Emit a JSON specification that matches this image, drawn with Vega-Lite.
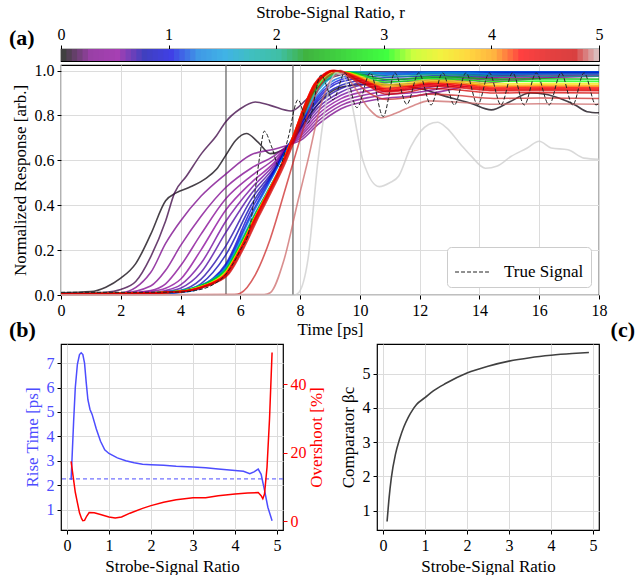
{
"$schema":"https://vega.github.io/schema/vega-lite/v6.json",
"padding":{"left":8,"top":2,"right":0,"bottom":0},
"background":"white",
"config":{
"font":"Liberation Serif",
"view":{"stroke":"#000","strokeWidth":1.2},
"axis":{"labelFont":"Liberation Serif","titleFont":"Liberation Serif","labelFontSize":16,"titleFontSize":17,"titleFontWeight":"normal","labelColor":"#000","titleColor":"#000","tickColor":"#000","tickSize":4,"tickWidth":1,"domain":false,"gridColor":"#dcdcdc","gridWidth":1,"labelPadding":3,"titlePadding":5,"labelFlush":false,"labelOverlap":false},
"axisQuantitative":{"labelOverlap":false},
"title":{"font":"Liberation Serif","fontSize":22,"fontWeight":"bold","color":"#000"}
},
"datasets":{
"cbar":[{"a":0,"b":0.06},{"a":0.05,"b":0.11},{"a":0.1,"b":0.16},{"a":0.15,"b":0.21},{"a":0.2,"b":0.26},{"a":0.25,"b":0.31},{"a":0.3,"b":0.36},{"a":0.35,"b":0.41},{"a":0.4,"b":0.46},{"a":0.45,"b":0.51},{"a":0.5,"b":0.56},{"a":0.55,"b":0.61},{"a":0.6,"b":0.66},{"a":0.65,"b":0.71},{"a":0.7,"b":0.76},{"a":0.75,"b":0.81},{"a":0.8,"b":0.86},{"a":0.85,"b":0.91},{"a":0.9,"b":0.96},{"a":0.95,"b":1.01},{"a":1,"b":1.06},{"a":1.05,"b":1.11},{"a":1.1,"b":1.16},{"a":1.15,"b":1.21},{"a":1.2,"b":1.26},{"a":1.25,"b":1.31},{"a":1.3,"b":1.36},{"a":1.35,"b":1.41},{"a":1.4,"b":1.46},{"a":1.45,"b":1.51},{"a":1.5,"b":1.56},{"a":1.55,"b":1.61},{"a":1.6,"b":1.66},{"a":1.65,"b":1.71},{"a":1.7,"b":1.76},{"a":1.75,"b":1.81},{"a":1.8,"b":1.86},{"a":1.85,"b":1.91},{"a":1.9,"b":1.96},{"a":1.95,"b":2.01},{"a":2,"b":2.06},{"a":2.05,"b":2.11},{"a":2.1,"b":2.16},{"a":2.15,"b":2.21},{"a":2.2,"b":2.26},{"a":2.25,"b":2.31},{"a":2.3,"b":2.36},{"a":2.35,"b":2.41},{"a":2.4,"b":2.46},{"a":2.45,"b":2.51},{"a":2.5,"b":2.56},{"a":2.55,"b":2.61},{"a":2.6,"b":2.66},{"a":2.65,"b":2.71},{"a":2.7,"b":2.76},{"a":2.75,"b":2.81},{"a":2.8,"b":2.86},{"a":2.85,"b":2.91},{"a":2.9,"b":2.96},{"a":2.95,"b":3.01},{"a":3,"b":3.06},{"a":3.05,"b":3.11},{"a":3.1,"b":3.16},{"a":3.15,"b":3.21},{"a":3.2,"b":3.26},{"a":3.25,"b":3.31},{"a":3.3,"b":3.36},{"a":3.35,"b":3.41},{"a":3.4,"b":3.46},{"a":3.45,"b":3.51},{"a":3.5,"b":3.56},{"a":3.55,"b":3.61},{"a":3.6,"b":3.66},{"a":3.65,"b":3.71},{"a":3.7,"b":3.76},{"a":3.75,"b":3.81},{"a":3.8,"b":3.86},{"a":3.85,"b":3.91},{"a":3.9,"b":3.96},{"a":3.95,"b":4.01},{"a":4,"b":4.06},{"a":4.05,"b":4.11},{"a":4.1,"b":4.16},{"a":4.15,"b":4.21},{"a":4.2,"b":4.26},{"a":4.25,"b":4.31},{"a":4.3,"b":4.36},{"a":4.35,"b":4.41},{"a":4.4,"b":4.46},{"a":4.45,"b":4.51},{"a":4.5,"b":4.56},{"a":4.55,"b":4.61},{"a":4.6,"b":4.66},{"a":4.65,"b":4.71},{"a":4.7,"b":4.76},{"a":4.75,"b":4.81},{"a":4.8,"b":4.86},{"a":4.85,"b":4.91},{"a":4.9,"b":4.96},{"a":4.95,"b":5}],
"vlines":[{"t":5.52},{"t":7.76}],
"curves":[
{"r":0.02,"t":0,"y":0.01},{"r":0.02,"t":1,"y":0.015},{"r":0.02,"t":1.5,"y":0.035},{"r":0.02,"t":2,"y":0.075},{"r":0.02,"t":2.5,"y":0.14},{"r":0.02,"t":3,"y":0.27},{"r":0.02,"t":3.5,"y":0.42},{"r":0.02,"t":3.85,"y":0.455},{"r":0.02,"t":4.3,"y":0.48},{"r":0.02,"t":4.85,"y":0.52},{"r":0.02,"t":5.2,"y":0.56},{"r":0.02,"t":5.5,"y":0.62},{"r":0.02,"t":5.85,"y":0.69},{"r":0.02,"t":6.2,"y":0.72},{"r":0.02,"t":6.6,"y":0.68},{"r":0.02,"t":7,"y":0.63},{"r":0.02,"t":7.4,"y":0.645},{"r":0.02,"t":7.7,"y":0.68},{"r":0.02,"t":8.2,"y":0.78},{"r":0.02,"t":8.8,"y":0.88},{"r":0.02,"t":9.5,"y":0.93},{"r":0.02,"t":10.5,"y":0.94},{"r":0.02,"t":12,"y":0.92},{"r":0.02,"t":13,"y":0.88},{"r":0.02,"t":13.7,"y":0.855},{"r":0.02,"t":14.4,"y":0.825},{"r":0.02,"t":15,"y":0.86},{"r":0.02,"t":15.7,"y":0.9},{"r":0.02,"t":16.2,"y":0.895},{"r":0.02,"t":16.7,"y":0.876},{"r":0.02,"t":17.2,"y":0.847},{"r":0.02,"t":17.6,"y":0.817},{"r":0.02,"t":18,"y":0.812},
{"r":0.12,"t":0,"y":0.005},{"r":0.12,"t":1.5,"y":0.012},{"r":0.12,"t":2,"y":0.025},{"r":0.12,"t":2.5,"y":0.06},{"r":0.12,"t":3,"y":0.17},{"r":0.12,"t":3.5,"y":0.33},{"r":0.12,"t":3.8,"y":0.455},{"r":0.12,"t":4.2,"y":0.53},{"r":0.12,"t":4.7,"y":0.63},{"r":0.12,"t":5.2,"y":0.71},{"r":0.12,"t":5.5,"y":0.77},{"r":0.12,"t":6,"y":0.83},{"r":0.12,"t":6.5,"y":0.86},{"r":0.12,"t":7,"y":0.845},{"r":0.12,"t":7.7,"y":0.82},{"r":0.12,"t":8.2,"y":0.87},{"r":0.12,"t":8.8,"y":0.95},{"r":0.12,"t":9.5,"y":0.985},{"r":0.12,"t":10.5,"y":0.995},{"r":0.12,"t":12,"y":0.995},{"r":0.12,"t":14,"y":0.995},{"r":0.12,"t":16,"y":0.99},{"r":0.12,"t":18,"y":0.99},
{"r":0.25,"t":0,"y":0.005},{"r":0.25,"t":2,"y":0.01},{"r":0.25,"t":3,"y":0.1},{"r":0.25,"t":3.5,"y":0.23},{"r":0.25,"t":4,"y":0.33},{"r":0.25,"t":4.68,"y":0.44},{"r":0.25,"t":5.52,"y":0.54},{"r":0.25,"t":6.36,"y":0.625},{"r":0.25,"t":7.13,"y":0.65},{"r":0.25,"t":7.63,"y":0.67},{"r":0.25,"t":8.03,"y":0.69},{"r":0.25,"t":8.6,"y":0.76},{"r":0.25,"t":9.37,"y":0.83},{"r":0.25,"t":10.5,"y":0.87},{"r":0.25,"t":12,"y":0.89},{"r":0.25,"t":14,"y":0.94},{"r":0.25,"t":16,"y":0.965},{"r":0.25,"t":18,"y":0.975},
{"r":0.33,"t":0,"y":0.005},{"r":0.33,"t":2,"y":0.008},{"r":0.33,"t":3,"y":0.04},{"r":0.33,"t":3.5,"y":0.11},{"r":0.33,"t":4,"y":0.22},{"r":0.33,"t":4.68,"y":0.35},{"r":0.33,"t":5.52,"y":0.48},{"r":0.33,"t":6.36,"y":0.565},{"r":0.33,"t":7.13,"y":0.62},{"r":0.33,"t":7.63,"y":0.67},{"r":0.33,"t":8.03,"y":0.7},{"r":0.33,"t":8.6,"y":0.775},{"r":0.33,"t":9.37,"y":0.845},{"r":0.33,"t":10.5,"y":0.885},{"r":0.33,"t":12,"y":0.905},{"r":0.33,"t":14,"y":0.95},{"r":0.33,"t":16,"y":0.97},{"r":0.33,"t":18,"y":0.98},
{"r":0.4,"t":0,"y":0.005},{"r":0.4,"t":2,"y":0.007},{"r":0.4,"t":3,"y":0.02},{"r":0.4,"t":3.5,"y":0.05},{"r":0.4,"t":4,"y":0.13},{"r":0.4,"t":4.68,"y":0.27},{"r":0.4,"t":5.52,"y":0.43},{"r":0.4,"t":6.36,"y":0.53},{"r":0.4,"t":7.13,"y":0.605},{"r":0.4,"t":7.63,"y":0.67},{"r":0.4,"t":8.03,"y":0.71},{"r":0.4,"t":8.6,"y":0.79},{"r":0.4,"t":9.37,"y":0.86},{"r":0.4,"t":10.5,"y":0.9},{"r":0.4,"t":12,"y":0.92},{"r":0.4,"t":14,"y":0.96},{"r":0.4,"t":16,"y":0.975},{"r":0.4,"t":18,"y":0.985},
{"r":0.48,"t":0,"y":0.005},{"r":0.48,"t":2,"y":0.006},{"r":0.48,"t":3,"y":0.015},{"r":0.48,"t":3.5,"y":0.03},{"r":0.48,"t":4,"y":0.07},{"r":0.48,"t":4.68,"y":0.2},{"r":0.48,"t":5.52,"y":0.38},{"r":0.48,"t":6.36,"y":0.5},{"r":0.48,"t":7.13,"y":0.59},{"r":0.48,"t":7.63,"y":0.67},{"r":0.48,"t":8.03,"y":0.72},{"r":0.48,"t":8.6,"y":0.805},{"r":0.48,"t":9.37,"y":0.875},{"r":0.48,"t":10.5,"y":0.915},{"r":0.48,"t":12,"y":0.935},{"r":0.48,"t":14,"y":0.965},{"r":0.48,"t":16,"y":0.98},{"r":0.48,"t":18,"y":0.985},
{"r":0.55,"t":0,"y":0.005},{"r":0.55,"t":2,"y":0.006},{"r":0.55,"t":3,"y":0.01},{"r":0.55,"t":3.5,"y":0.02},{"r":0.55,"t":4,"y":0.045},{"r":0.55,"t":4.68,"y":0.14},{"r":0.55,"t":5.52,"y":0.33},{"r":0.55,"t":6.36,"y":0.475},{"r":0.55,"t":7.13,"y":0.58},{"r":0.55,"t":7.63,"y":0.67},{"r":0.55,"t":8.03,"y":0.73},{"r":0.55,"t":8.6,"y":0.82},{"r":0.55,"t":9.37,"y":0.89},{"r":0.55,"t":10.5,"y":0.93},{"r":0.55,"t":12,"y":0.945},{"r":0.55,"t":14,"y":0.97},{"r":0.55,"t":16,"y":0.985},{"r":0.55,"t":18,"y":0.99},
{"r":0.62,"t":0,"y":0.005},{"r":0.62,"t":2,"y":0.006},{"r":0.62,"t":3,"y":0.008},{"r":0.62,"t":3.5,"y":0.015},{"r":0.62,"t":4,"y":0.03},{"r":0.62,"t":4.68,"y":0.1},{"r":0.62,"t":5.52,"y":0.28},{"r":0.62,"t":6.36,"y":0.45},{"r":0.62,"t":7.13,"y":0.57},{"r":0.62,"t":7.63,"y":0.67},{"r":0.62,"t":8.03,"y":0.74},{"r":0.62,"t":8.6,"y":0.835},{"r":0.62,"t":9.37,"y":0.905},{"r":0.62,"t":10.5,"y":0.945},{"r":0.62,"t":12,"y":0.955},{"r":0.62,"t":14,"y":0.975},{"r":0.62,"t":16,"y":0.985},{"r":0.62,"t":18,"y":0.99},
{"r":0.7,"t":0,"y":0.005},{"r":0.7,"t":2,"y":0.006},{"r":0.7,"t":3,"y":0.007},{"r":0.7,"t":3.5,"y":0.012},{"r":0.7,"t":4,"y":0.02},{"r":0.7,"t":4.68,"y":0.07},{"r":0.7,"t":5.52,"y":0.22},{"r":0.7,"t":6.36,"y":0.425},{"r":0.7,"t":7.13,"y":0.56},{"r":0.7,"t":7.63,"y":0.67},{"r":0.7,"t":8.03,"y":0.75},{"r":0.7,"t":8.6,"y":0.85},{"r":0.7,"t":9.37,"y":0.92},{"r":0.7,"t":10.5,"y":0.955},{"r":0.7,"t":12,"y":0.965},{"r":0.7,"t":14,"y":0.98},{"r":0.7,"t":16,"y":0.99},{"r":0.7,"t":18,"y":0.99},
{"r":0.8,"t":0,"y":0.005},{"r":0.8,"t":2,"y":0.006},{"r":0.8,"t":3,"y":0.007},{"r":0.8,"t":3.5,"y":0.01},{"r":0.8,"t":4,"y":0.016},{"r":0.8,"t":4.68,"y":0.05},{"r":0.8,"t":5.52,"y":0.18},{"r":0.8,"t":6.36,"y":0.4},{"r":0.8,"t":7.13,"y":0.555},{"r":0.8,"t":7.63,"y":0.67},{"r":0.8,"t":8.03,"y":0.76},{"r":0.8,"t":8.6,"y":0.865},{"r":0.8,"t":9.37,"y":0.935},{"r":0.8,"t":10.5,"y":0.965},{"r":0.8,"t":12,"y":0.975},{"r":0.8,"t":14,"y":0.985},{"r":0.8,"t":16,"y":0.99},{"r":0.8,"t":18,"y":0.995},
{"r":0.9,"t":0,"y":0.005},{"r":0.9,"t":2,"y":0.006},{"r":0.9,"t":3,"y":0.006},{"r":0.9,"t":3.5,"y":0.009},{"r":0.9,"t":4,"y":0.014},{"r":0.9,"t":4.68,"y":0.04},{"r":0.9,"t":5.52,"y":0.14},{"r":0.9,"t":6.36,"y":0.38},{"r":0.9,"t":7.13,"y":0.55},{"r":0.9,"t":7.63,"y":0.67},{"r":0.9,"t":8.03,"y":0.765},{"r":0.9,"t":8.6,"y":0.875},{"r":0.9,"t":9.37,"y":0.95},{"r":0.9,"t":10.5,"y":0.975},{"r":0.9,"t":12,"y":0.985},{"r":0.9,"t":14,"y":0.99},{"r":0.9,"t":16,"y":0.995},{"r":0.9,"t":18,"y":0.995},
{"r":1.0,"t":0,"y":0.005},{"r":1.0,"t":2,"y":0.006},{"r":1.0,"t":3,"y":0.006},{"r":1.0,"t":3.5,"y":0.008},{"r":1.0,"t":4,"y":0.012},{"r":1.0,"t":4.68,"y":0.035},{"r":1.0,"t":5.52,"y":0.132},{"r":1.0,"t":6.36,"y":0.36},{"r":1.0,"t":7.13,"y":0.545},{"r":1.0,"t":7.63,"y":0.67},{"r":1.0,"t":8.03,"y":0.77},{"r":1.0,"t":8.6,"y":0.885},{"r":1.0,"t":9.37,"y":0.96},{"r":1.0,"t":10.5,"y":0.985},{"r":1.0,"t":12,"y":0.99},{"r":1.0,"t":14,"y":0.995},{"r":1.0,"t":16,"y":0.995},{"r":1.0,"t":18,"y":0.995},
{"r":1.2,"t":0,"y":0.005},{"r":1.2,"t":2,"y":0.006},{"r":1.2,"t":3,"y":0.006},{"r":1.2,"t":3.5,"y":0.008},{"r":1.2,"t":4,"y":0.011},{"r":1.2,"t":4.68,"y":0.03},{"r":1.2,"t":5.52,"y":0.127},{"r":1.2,"t":6.36,"y":0.35},{"r":1.2,"t":7.13,"y":0.54},{"r":1.2,"t":7.63,"y":0.67},{"r":1.2,"t":8.03,"y":0.775},{"r":1.2,"t":8.6,"y":0.895},{"r":1.2,"t":9.37,"y":0.97},{"r":1.2,"t":10.5,"y":0.99},{"r":1.2,"t":12,"y":0.995},{"r":1.2,"t":14,"y":0.995},{"r":1.2,"t":16,"y":0.995},{"r":1.2,"t":18,"y":0.995},
{"r":1.5,"t":0,"y":0.005},{"r":1.5,"t":2,"y":0.006},{"r":1.5,"t":4,"y":0.02},{"r":1.5,"t":4.68,"y":0.045},{"r":1.5,"t":5,"y":0.065},{"r":1.5,"t":5.52,"y":0.122},{"r":1.5,"t":6.02,"y":0.24},{"r":1.5,"t":6.52,"y":0.37},{"r":1.5,"t":6.92,"y":0.465},{"r":1.5,"t":7.36,"y":0.575},{"r":1.5,"t":7.8,"y":0.71},{"r":1.5,"t":8.13,"y":0.8},{"r":1.5,"t":8.47,"y":0.885},{"r":1.5,"t":8.8,"y":0.94},{"r":1.5,"t":9.05,"y":0.97},{"r":1.5,"t":9.3,"y":0.99},{"r":1.5,"t":9.6,"y":0.995},{"r":1.5,"t":10.2,"y":0.995},{"r":1.5,"t":10.9,"y":0.985},{"r":1.5,"t":11.6,"y":0.985},{"r":1.5,"t":12.3,"y":0.99},{"r":1.5,"t":13.2,"y":0.99},{"r":1.5,"t":14.5,"y":0.985},{"r":1.5,"t":16,"y":0.985},{"r":1.5,"t":18,"y":0.985},
{"r":2.0,"t":0,"y":0.005},{"r":2.0,"t":2,"y":0.006},{"r":2.0,"t":4,"y":0.019},{"r":2.0,"t":4.68,"y":0.043},{"r":2.0,"t":5,"y":0.062},{"r":2.0,"t":5.52,"y":0.118},{"r":2.0,"t":6.02,"y":0.235},{"r":2.0,"t":6.52,"y":0.366},{"r":2.0,"t":6.92,"y":0.463},{"r":2.0,"t":7.36,"y":0.575},{"r":2.0,"t":7.8,"y":0.712},{"r":2.0,"t":8.13,"y":0.807},{"r":2.0,"t":8.47,"y":0.895},{"r":2.0,"t":8.8,"y":0.948},{"r":2.0,"t":9.05,"y":0.975},{"r":2.0,"t":9.3,"y":0.991},{"r":2.0,"t":9.6,"y":0.995},{"r":2.0,"t":10.2,"y":0.989},{"r":2.0,"t":10.9,"y":0.974},{"r":2.0,"t":11.6,"y":0.976},{"r":2.0,"t":12.3,"y":0.983},{"r":2.0,"t":13.2,"y":0.982},{"r":2.0,"t":14.5,"y":0.975},{"r":2.0,"t":16,"y":0.975},{"r":2.0,"t":18,"y":0.975},
{"r":2.5,"t":0,"y":0.005},{"r":2.5,"t":2,"y":0.006},{"r":2.5,"t":4,"y":0.018},{"r":2.5,"t":4.68,"y":0.041},{"r":2.5,"t":5,"y":0.06},{"r":2.5,"t":5.52,"y":0.113},{"r":2.5,"t":6.02,"y":0.229},{"r":2.5,"t":6.52,"y":0.363},{"r":2.5,"t":6.92,"y":0.461},{"r":2.5,"t":7.36,"y":0.575},{"r":2.5,"t":7.8,"y":0.714},{"r":2.5,"t":8.13,"y":0.814},{"r":2.5,"t":8.47,"y":0.905},{"r":2.5,"t":8.8,"y":0.956},{"r":2.5,"t":9.05,"y":0.981},{"r":2.5,"t":9.3,"y":0.993},{"r":2.5,"t":9.6,"y":0.992},{"r":2.5,"t":10.2,"y":0.979},{"r":2.5,"t":10.9,"y":0.96},{"r":2.5,"t":11.6,"y":0.964},{"r":2.5,"t":12.3,"y":0.972},{"r":2.5,"t":13.2,"y":0.971},{"r":2.5,"t":14.5,"y":0.962},{"r":2.5,"t":16,"y":0.963},{"r":2.5,"t":18,"y":0.962},
{"r":3.0,"t":0,"y":0.005},{"r":3.0,"t":2,"y":0.006},{"r":3.0,"t":4,"y":0.017},{"r":3.0,"t":4.68,"y":0.04},{"r":3.0,"t":5,"y":0.057},{"r":3.0,"t":5.52,"y":0.109},{"r":3.0,"t":6.02,"y":0.224},{"r":3.0,"t":6.52,"y":0.359},{"r":3.0,"t":6.92,"y":0.46},{"r":3.0,"t":7.36,"y":0.575},{"r":3.0,"t":7.8,"y":0.715},{"r":3.0,"t":8.13,"y":0.822},{"r":3.0,"t":8.47,"y":0.915},{"r":3.0,"t":8.8,"y":0.964},{"r":3.0,"t":9.05,"y":0.986},{"r":3.0,"t":9.3,"y":0.994},{"r":3.0,"t":9.6,"y":0.992},{"r":3.0,"t":10.2,"y":0.973},{"r":3.0,"t":10.9,"y":0.949},{"r":3.0,"t":11.6,"y":0.955},{"r":3.0,"t":12.3,"y":0.965},{"r":3.0,"t":13.2,"y":0.962},{"r":3.0,"t":14.5,"y":0.952},{"r":3.0,"t":16,"y":0.953},{"r":3.0,"t":18,"y":0.952},
{"r":3.5,"t":0,"y":0.005},{"r":3.5,"t":2,"y":0.006},{"r":3.5,"t":4,"y":0.016},{"r":3.5,"t":4.68,"y":0.038},{"r":3.5,"t":5,"y":0.054},{"r":3.5,"t":5.52,"y":0.104},{"r":3.5,"t":6.02,"y":0.219},{"r":3.5,"t":6.52,"y":0.356},{"r":3.5,"t":6.92,"y":0.458},{"r":3.5,"t":7.36,"y":0.575},{"r":3.5,"t":7.8,"y":0.717},{"r":3.5,"t":8.13,"y":0.828},{"r":3.5,"t":8.47,"y":0.924},{"r":3.5,"t":8.8,"y":0.972},{"r":3.5,"t":9.05,"y":0.991},{"r":3.5,"t":9.3,"y":0.995},{"r":3.5,"t":9.6,"y":0.991},{"r":3.5,"t":10.2,"y":0.966},{"r":3.5,"t":10.9,"y":0.938},{"r":3.5,"t":11.6,"y":0.946},{"r":3.5,"t":12.3,"y":0.958},{"r":3.5,"t":13.2,"y":0.954},{"r":3.5,"t":14.5,"y":0.942},{"r":3.5,"t":16,"y":0.943},{"r":3.5,"t":18,"y":0.942},
{"r":3.8,"t":0,"y":0.005},{"r":3.8,"t":2,"y":0.006},{"r":3.8,"t":4,"y":0.016},{"r":3.8,"t":4.68,"y":0.037},{"r":3.8,"t":5,"y":0.053},{"r":3.8,"t":5.52,"y":0.1},{"r":3.8,"t":6.02,"y":0.215},{"r":3.8,"t":6.52,"y":0.354},{"r":3.8,"t":6.92,"y":0.457},{"r":3.8,"t":7.36,"y":0.575},{"r":3.8,"t":7.8,"y":0.718},{"r":3.8,"t":8.13,"y":0.833},{"r":3.8,"t":8.47,"y":0.93},{"r":3.8,"t":8.8,"y":0.977},{"r":3.8,"t":9.05,"y":0.995},{"r":3.8,"t":9.3,"y":0.996},{"r":3.8,"t":9.6,"y":0.99},{"r":3.8,"t":10.2,"y":0.961},{"r":3.8,"t":10.9,"y":0.931},{"r":3.8,"t":11.6,"y":0.939},{"r":3.8,"t":12.3,"y":0.952},{"r":3.8,"t":13.2,"y":0.948},{"r":3.8,"t":14.5,"y":0.935},{"r":3.8,"t":16,"y":0.937},{"r":3.8,"t":18,"y":0.935},
{"r":4.0,"t":0,"y":0.005},{"r":4.0,"t":2,"y":0.006},{"r":4.0,"t":4,"y":0.016},{"r":4.0,"t":4.68,"y":0.036},{"r":4.0,"t":5,"y":0.052},{"r":4.0,"t":5.52,"y":0.098},{"r":4.0,"t":6.02,"y":0.213},{"r":4.0,"t":6.52,"y":0.352},{"r":4.0,"t":6.92,"y":0.456},{"r":4.0,"t":7.36,"y":0.575},{"r":4.0,"t":7.8,"y":0.719},{"r":4.0,"t":8.13,"y":0.836},{"r":4.0,"t":8.47,"y":0.934},{"r":4.0,"t":8.8,"y":0.98},{"r":4.0,"t":9.05,"y":0.997},{"r":4.0,"t":9.3,"y":0.996},{"r":4.0,"t":9.6,"y":0.989},{"r":4.0,"t":10.2,"y":0.958},{"r":4.0,"t":10.9,"y":0.926},{"r":4.0,"t":11.6,"y":0.934},{"r":4.0,"t":12.3,"y":0.948},{"r":4.0,"t":13.2,"y":0.944},{"r":4.0,"t":14.5,"y":0.93},{"r":4.0,"t":16,"y":0.932},{"r":4.0,"t":18,"y":0.93},
{"r":4.2,"t":0,"y":0.005},{"r":4.2,"t":2,"y":0.006},{"r":4.2,"t":4,"y":0.015},{"r":4.2,"t":4.68,"y":0.035},{"r":4.2,"t":5,"y":0.051},{"r":4.2,"t":5.52,"y":0.096},{"r":4.2,"t":6.02,"y":0.211},{"r":4.2,"t":6.52,"y":0.351},{"r":4.2,"t":6.92,"y":0.455},{"r":4.2,"t":7.36,"y":0.575},{"r":4.2,"t":7.8,"y":0.72},{"r":4.2,"t":8.13,"y":0.838},{"r":4.2,"t":8.47,"y":0.938},{"r":4.2,"t":8.8,"y":0.983},{"r":4.2,"t":9.05,"y":0.999},{"r":4.2,"t":9.3,"y":0.997},{"r":4.2,"t":9.6,"y":0.988},{"r":4.2,"t":10.2,"y":0.954},{"r":4.2,"t":10.9,"y":0.92},{"r":4.2,"t":11.6,"y":0.93},{"r":4.2,"t":12.3,"y":0.944},{"r":4.2,"t":13.2,"y":0.94},{"r":4.2,"t":14.5,"y":0.925},{"r":4.2,"t":16,"y":0.927},{"r":4.2,"t":18,"y":0.925},
{"r":4.3,"t":0,"y":0.005},{"r":4.3,"t":2,"y":0.006},{"r":4.3,"t":4,"y":0.015},{"r":4.3,"t":4.68,"y":0.035},{"r":4.3,"t":5,"y":0.05},{"r":4.3,"t":5.52,"y":0.095},{"r":4.3,"t":6.02,"y":0.21},{"r":4.3,"t":6.52,"y":0.35},{"r":4.3,"t":6.92,"y":0.455},{"r":4.3,"t":7.36,"y":0.575},{"r":4.3,"t":7.8,"y":0.72},{"r":4.3,"t":8.13,"y":0.84},{"r":4.3,"t":8.47,"y":0.94},{"r":4.3,"t":8.8,"y":0.985},{"r":4.3,"t":9.05,"y":1.0},{"r":4.3,"t":9.3,"y":0.997},{"r":4.3,"t":9.6,"y":0.985},{"r":4.3,"t":10.2,"y":0.95},{"r":4.3,"t":10.9,"y":0.915},{"r":4.3,"t":11.6,"y":0.925},{"r":4.3,"t":12.3,"y":0.94},{"r":4.3,"t":13.2,"y":0.935},{"r":4.3,"t":14.5,"y":0.92},{"r":4.3,"t":16,"y":0.922},{"r":4.3,"t":18,"y":0.92},
{"r":4.4,"t":0,"y":0.005},{"r":4.4,"t":2,"y":0.006},{"r":4.4,"t":4,"y":0.015},{"r":4.4,"t":4.71,"y":0.035},{"r":4.4,"t":5.03,"y":0.05},{"r":4.4,"t":5.55,"y":0.095},{"r":4.4,"t":6.05,"y":0.21},{"r":4.4,"t":6.55,"y":0.35},{"r":4.4,"t":6.95,"y":0.455},{"r":4.4,"t":7.39,"y":0.575},{"r":4.4,"t":7.83,"y":0.72},{"r":4.4,"t":8.16,"y":0.84},{"r":4.4,"t":8.5,"y":0.94},{"r":4.4,"t":8.83,"y":0.985},{"r":4.4,"t":9.08,"y":1.0},{"r":4.4,"t":9.33,"y":0.997},{"r":4.4,"t":9.6,"y":0.98},{"r":4.4,"t":10.2,"y":0.945},{"r":4.4,"t":10.9,"y":0.91},{"r":4.4,"t":11.6,"y":0.92},{"r":4.4,"t":12.3,"y":0.935},{"r":4.4,"t":13.2,"y":0.93},{"r":4.4,"t":14.5,"y":0.915},{"r":4.4,"t":16,"y":0.917},{"r":4.4,"t":18,"y":0.915},
{"r":4.5,"t":0,"y":0.005},{"r":4.5,"t":2,"y":0.006},{"r":4.5,"t":4,"y":0.015},{"r":4.5,"t":4.74,"y":0.035},{"r":4.5,"t":5.06,"y":0.05},{"r":4.5,"t":5.58,"y":0.095},{"r":4.5,"t":6.08,"y":0.21},{"r":4.5,"t":6.58,"y":0.35},{"r":4.5,"t":6.98,"y":0.455},{"r":4.5,"t":7.42,"y":0.575},{"r":4.5,"t":7.86,"y":0.72},{"r":4.5,"t":8.19,"y":0.84},{"r":4.5,"t":8.53,"y":0.94},{"r":4.5,"t":8.86,"y":0.985},{"r":4.5,"t":9.11,"y":1.0},{"r":4.5,"t":9.36,"y":0.997},{"r":4.5,"t":9.6,"y":0.975},{"r":4.5,"t":10.2,"y":0.94},{"r":4.5,"t":10.9,"y":0.905},{"r":4.5,"t":11.6,"y":0.915},{"r":4.5,"t":12.3,"y":0.93},{"r":4.5,"t":13.2,"y":0.925},{"r":4.5,"t":14.5,"y":0.91},{"r":4.5,"t":16,"y":0.912},{"r":4.5,"t":18,"y":0.91},
{"r":4.65,"t":0,"y":0.005},{"r":4.65,"t":2,"y":0.006},{"r":4.65,"t":4,"y":0.015},{"r":4.65,"t":4.78,"y":0.035},{"r":4.65,"t":5.1,"y":0.05},{"r":4.65,"t":5.62,"y":0.095},{"r":4.65,"t":6.12,"y":0.21},{"r":4.65,"t":6.62,"y":0.35},{"r":4.65,"t":7.02,"y":0.455},{"r":4.65,"t":7.46,"y":0.575},{"r":4.65,"t":7.9,"y":0.72},{"r":4.65,"t":8.23,"y":0.84},{"r":4.65,"t":8.57,"y":0.94},{"r":4.65,"t":8.9,"y":0.985},{"r":4.65,"t":9.15,"y":1.0},{"r":4.65,"t":9.4,"y":0.995},{"r":4.65,"t":9.7,"y":0.975},{"r":4.65,"t":10.3,"y":0.93},{"r":4.65,"t":10.9,"y":0.895},{"r":4.65,"t":11.6,"y":0.905},{"r":4.65,"t":12.3,"y":0.92},{"r":4.65,"t":13.2,"y":0.915},{"r":4.65,"t":14.5,"y":0.9},{"r":4.65,"t":16,"y":0.902},{"r":4.65,"t":18,"y":0.9},
{"r":4.8,"t":0,"y":0},{"r":4.8,"t":5.8,"y":0.002},{"r":4.8,"t":6,"y":0.008},{"r":4.8,"t":6.5,"y":0.09},{"r":4.8,"t":7,"y":0.25},{"r":4.8,"t":7.5,"y":0.47},{"r":4.8,"t":7.9,"y":0.65},{"r":4.8,"t":8.3,"y":0.82},{"r":4.8,"t":8.7,"y":0.94},{"r":4.8,"t":9.1,"y":0.99},{"r":4.8,"t":9.35,"y":1.0},{"r":4.8,"t":9.7,"y":0.97},{"r":4.8,"t":10.2,"y":0.91},{"r":4.8,"t":10.9,"y":0.872},{"r":4.8,"t":11.6,"y":0.88},{"r":4.8,"t":12.3,"y":0.895},{"r":4.8,"t":13.2,"y":0.89},{"r":4.8,"t":14.5,"y":0.876},{"r":4.8,"t":16,"y":0.878},{"r":4.8,"t":18,"y":0.876},
{"r":4.88,"t":0,"y":0},{"r":4.88,"t":6.8,"y":0.002},{"r":4.88,"t":7,"y":0.01},{"r":4.88,"t":7.46,"y":0.156},{"r":4.88,"t":7.93,"y":0.42},{"r":4.88,"t":8.26,"y":0.6},{"r":4.88,"t":8.7,"y":0.85},{"r":4.88,"t":9.1,"y":0.97},{"r":4.88,"t":9.4,"y":0.99},{"r":4.88,"t":9.8,"y":0.93},{"r":4.88,"t":10.3,"y":0.83},{"r":4.88,"t":10.7,"y":0.79},{"r":4.88,"t":11.2,"y":0.81},{"r":4.88,"t":11.8,"y":0.845},{"r":4.88,"t":12.3,"y":0.865},{"r":4.88,"t":13.2,"y":0.86},{"r":4.88,"t":14.5,"y":0.85},{"r":4.88,"t":16,"y":0.852},{"r":4.88,"t":18,"y":0.85},
{"r":5.0,"t":0,"y":0},{"r":5.0,"t":7.8,"y":0},{"r":5.0,"t":7.95,"y":0.01},{"r":5.0,"t":8.26,"y":0.156},{"r":5.0,"t":8.6,"y":0.6},{"r":5.0,"t":8.93,"y":0.9},{"r":5.0,"t":9.2,"y":0.99},{"r":5.0,"t":9.45,"y":0.97},{"r":5.0,"t":9.7,"y":0.87},{"r":5.0,"t":10.1,"y":0.6},{"r":5.0,"t":10.65,"y":0.483},{"r":5.0,"t":11,"y":0.5},{"r":5.0,"t":11.3,"y":0.53},{"r":5.0,"t":11.7,"y":0.66},{"r":5.0,"t":12.3,"y":0.76},{"r":5.0,"t":12.6,"y":0.77},{"r":5.0,"t":12.9,"y":0.745},{"r":5.0,"t":13.38,"y":0.67},{"r":5.0,"t":13.72,"y":0.62},{"r":5.0,"t":14.2,"y":0.565},{"r":5.0,"t":14.6,"y":0.575},{"r":5.0,"t":15.05,"y":0.617},{"r":5.0,"t":15.6,"y":0.655},{"r":5.0,"t":16,"y":0.685},{"r":5.0,"t":16.4,"y":0.655},{"r":5.0,"t":16.96,"y":0.647},{"r":5.0,"t":17.5,"y":0.61},{"r":5.0,"t":18,"y":0.605}
],
"truth":[{"t":0,"y":0.012},{"t":2,"y":0.012},{"t":4,"y":0.013},{"t":4.5,"y":0.02},{"t":5,"y":0.04},{"t":5.5,"y":0.09},{"t":6,"y":0.2},{"t":6.3,"y":0.29},{"t":6.5,"y":0.47},{"t":6.65,"y":0.62},{"t":6.8,"y":0.73},{"t":7.05,"y":0.66},{"t":7.3,"y":0.57},{"t":7.6,"y":0.7},{"t":7.93,"y":0.87},{"t":8.25,"y":0.765},{"t":8.7,"y":0.98},{"t":9.1,"y":0.87},{"t":9.5,"y":0.99},{"t":9.9,"y":0.835},{"t":10.35,"y":0.99},{"t":10.78,"y":0.795},{"t":11.17,"y":0.99},{"t":11.57,"y":0.85},{"t":11.97,"y":0.99},{"t":12.38,"y":0.847},{"t":12.77,"y":0.99},{"t":13.16,"y":0.847},{"t":13.55,"y":0.99},{"t":13.94,"y":0.847},{"t":14.33,"y":0.99},{"t":14.72,"y":0.847},{"t":15.11,"y":0.99},{"t":15.5,"y":0.847},{"t":15.9,"y":0.99},{"t":16.33,"y":0.847},{"t":16.73,"y":0.99},{"t":17.12,"y":0.847},{"t":17.5,"y":0.99},{"t":17.9,"y":0.847},{"t":18,"y":0.855}],
"rise":[{"r":0.1,"v":2.22},{"r":0.12,"v":3.0},{"r":0.16,"v":4.6},{"r":0.2,"v":6.0},{"r":0.25,"v":6.95},{"r":0.3,"v":7.35},{"r":0.34,"v":7.42},{"r":0.38,"v":7.35},{"r":0.42,"v":7.0},{"r":0.46,"v":6.2},{"r":0.5,"v":5.5},{"r":0.55,"v":5.1},{"r":0.6,"v":4.9},{"r":0.7,"v":4.3},{"r":0.8,"v":3.8},{"r":0.9,"v":3.45},{"r":1.0,"v":3.3},{"r":1.2,"v":3.12},{"r":1.4,"v":3.0},{"r":1.6,"v":2.92},{"r":1.8,"v":2.86},{"r":2.0,"v":2.84},{"r":2.3,"v":2.82},{"r":2.6,"v":2.78},{"r":3.0,"v":2.75},{"r":3.3,"v":2.72},{"r":3.6,"v":2.67},{"r":4.0,"v":2.6},{"r":4.2,"v":2.57},{"r":4.35,"v":2.47},{"r":4.45,"v":2.55},{"r":4.55,"v":2.66},{"r":4.62,"v":2.45},{"r":4.7,"v":1.8},{"r":4.78,"v":1.1},{"r":4.88,"v":0.55}],
"ref":[{"v":2.26}],
"over":[{"r":0.1,"o":17.5},{"r":0.15,"o":13},{"r":0.2,"o":8.5},{"r":0.25,"o":5.5},{"r":0.3,"o":2.5},{"r":0.35,"o":0.8},{"r":0.38,"o":0.2},{"r":0.42,"o":0.3},{"r":0.47,"o":1.5},{"r":0.53,"o":2.6},{"r":0.65,"o":2.5},{"r":0.8,"o":2.0},{"r":1.0,"o":1.3},{"r":1.15,"o":1.0},{"r":1.3,"o":1.3},{"r":1.5,"o":2.4},{"r":1.8,"o":3.8},{"r":2.0,"o":4.6},{"r":2.3,"o":5.6},{"r":2.6,"o":6.3},{"r":3.0,"o":6.9},{"r":3.3,"o":6.9},{"r":3.6,"o":7.5},{"r":4.0,"o":8.0},{"r":4.3,"o":8.3},{"r":4.55,"o":8.4},{"r":4.62,"o":7.5},{"r":4.66,"o":6.6},{"r":4.7,"o":8.0},{"r":4.76,"o":15.8},{"r":4.82,"o":30},{"r":4.88,"o":49.2}],
"beta":[{"r":0.1,"b":0.68},{"r":0.15,"b":1.4},{"r":0.2,"b":1.95},{"r":0.3,"b":2.65},{"r":0.4,"b":3.1},{"r":0.5,"b":3.45},{"r":0.6,"b":3.72},{"r":0.7,"b":3.93},{"r":0.8,"b":4.1},{"r":1.0,"b":4.3},{"r":1.2,"b":4.5},{"r":1.5,"b":4.72},{"r":2.0,"b":5.02},{"r":2.5,"b":5.22},{"r":3.0,"b":5.37},{"r":3.5,"b":5.47},{"r":4.0,"b":5.54},{"r":4.5,"b":5.59},{"r":4.9,"b":5.62}]
},
"vconcat":[
{"vconcat":[
{"width":538,"height":12,
"data":{"name":"cbar"},
"mark":{"type":"rect","strokeWidth":0},
"encoding":{
"x":{"field":"a","type":"quantitative","scale":{"domain":[0,5],"nice":false,"zero":false},"axis":{"orient":"top","values":[0,1,2,3,4,5],"title":"Strobe-Signal Ratio, r","grid":false,"titlePadding":5,"labelPadding":3}},
"x2":{"field":"b"},
"color":{"field":"a","type":"quantitative","legend":null,"scale":{"type":"linear","domain":[0,0.25,0.5,0.75,1,1.25,1.5,1.75,2,2.25,2.5,2.75,3,3.25,3.5,3.75,4,4.25,4.5,4.75,5],"range":["#404040","#9940a6","#a640b3","#4040bf","#4040e6","#4099e6","#40b3e6","#40bfbf","#40bfa6","#40b340","#40cc40","#40e640","#40ff40","#ccff40","#f2f240","#ffd940","#ffb340","#ff4040","#e64040","#d94040","#d9d9d9"],"interpolate":"rgb"}}
}},
{"width":538,"height":230,
"title":{"text":"(a)","anchor":"start","frame":"group","dx":-52,"offset":13},
"layer":[
{"data":{"name":"vlines"},"mark":{"type":"rule","color":"#666666","strokeWidth":1.5,"opacity":0.85},
"encoding":{"x":{"field":"t","type":"quantitative","scale":{"domain":[0,18],"nice":false,"zero":false},"axis":{"title":"Time [ps]","values":[0,2,4,6,8,10,12,14,16,18],"titlePadding":3,"labelOverlap":false}}}},
{"data":{"name":"curves"},"mark":{"type":"line","interpolate":"monotone","strokeWidth":1.6,"opacity":0.75},
"encoding":{
"x":{"field":"t","type":"quantitative"},
"y":{"field":"y","type":"quantitative","scale":{"domain":[0,1.025],"nice":false,"zero":false},"axis":{"title":"Normalized Response [arb.]","values":[0,0.2,0.4,0.6,0.8,1.0],"format":".1f","labelOverlap":false}},
"color":{"field":"r","type":"quantitative","legend":null,"scale":{"type":"linear","domain":[0,0.25,0.5,0.75,1,1.25,1.5,1.75,2,2.25,2.5,2.75,3,3.25,3.5,3.75,4,4.25,4.5,4.75,5],"range":["#000000","#770088","#880099","#0000aa","#0000dd","#0077dd","#0099dd","#00aaaa","#00aa88","#009900","#00bb00","#00dd00","#00ff00","#bbff00","#eeee00","#ffcc00","#ff9900","#ff0000","#dd0000","#cc0000","#cccccc"],"interpolate":"rgb"}},
"detail":{"field":"r","type":"quantitative"}}},
{"data":{"name":"truth"},"mark":{"type":"line","interpolate":"monotone","color":"#222222","strokeWidth":1},
"encoding":{
"x":{"field":"t","type":"quantitative"},
"y":{"field":"y","type":"quantitative"},
"strokeDash":{"datum":"True Signal","type":"nominal","scale":{"range":[[4,2]]},"legend":{"title":null,"orient":"bottom-right","offset":8,"symbolType":"stroke","symbolSize":1150,"symbolStrokeWidth":1.2,"symbolStrokeColor":"#222222","symbolDash":[4,2],"labelFont":"Liberation Serif","labelFontSize":17,"labelColor":"#000","labelOffset":14,"padding":7,"strokeColor":"#cccccc","fillColor":"#ffffff","cornerRadius":4}}}}
]}
],"spacing":4,"bounds":"flush",
"resolve":{"scale":{"color":"independent","strokeDash":"independent"},"legend":{"color":"independent","strokeDash":"independent"}}},
{"hconcat":[
{"width":222,"height":186,
"title":{"text":"(b)","anchor":"start","frame":"group","dx":-52,"offset":2},
"layer":[
{"layer":[
{"data":{"name":"rise"},"mark":{"type":"line","color":"#4d4dff","strokeWidth":1.5},
"encoding":{
"x":{"field":"r","type":"quantitative","scale":{"domain":[-0.14,5.14],"nice":false,"zero":false},"axis":{"title":"Strobe-Signal Ratio","values":[0,1,2,3,4,5],"labelOverlap":false}},
"y":{"field":"v","type":"quantitative","scale":{"domain":[0.17,7.78],"nice":false,"zero":false},"axis":{"title":"Rise Time [ps]","values":[1,2,3,4,5,6,7],"labelOverlap":false,"labelColor":"#4d4dff","titleColor":"#4d4dff"}}}},
{"data":{"name":"ref"},"mark":{"type":"rule","color":"#4d4dff","strokeWidth":1,"strokeDash":[4,3]},
"encoding":{"y":{"field":"v","type":"quantitative","scale":{"domain":[0.17,7.78],"nice":false,"zero":false},"axis":{"title":"Rise Time [ps]","values":[1,2,3,4,5,6,7],"labelOverlap":false,"labelColor":"#4d4dff","titleColor":"#4d4dff"}}}}
]},
{"data":{"name":"over"},"mark":{"type":"line","color":"#ff0000","strokeWidth":1.5},
"encoding":{
"x":{"field":"r","type":"quantitative"},
"y":{"field":"o","type":"quantitative","scale":{"domain":[-2.5,51.7],"nice":false,"zero":false},"axis":{"orient":"right","title":"Overshoot [%]","values":[0,20,40],"grid":false,"labelOverlap":false,"labelColor":"#ff0000","titleColor":"#ff0000","tickColor":"#ff0000","titleAngle":270,"titleBaseline":"top","titlePadding":2}}}}
],
"resolve":{"scale":{"y":"independent"}}},
{"width":222,"height":186,
"title":{"text":"(c)","anchor":"end","frame":"group","dx":36,"offset":2},
"data":{"name":"beta"},"mark":{"type":"line","color":"#404040","strokeWidth":1.6,"interpolate":"monotone"},
"encoding":{
"x":{"field":"r","type":"quantitative","scale":{"domain":[-0.14,5.14],"nice":false,"zero":false},"axis":{"title":"Strobe-Signal Ratio","values":[0,1,2,3,4,5],"labelOverlap":false}},
"y":{"field":"b","type":"quantitative","scale":{"domain":[0.43,5.87],"nice":false,"zero":false},"axis":{"title":"Comparator βc","values":[1,2,3,4,5],"labelOverlap":false}}}}
],"spacing":94,"bounds":"flush"}
],
"spacing":295,
"bounds":"flush",
"resolve":{"scale":{"color":"independent","strokeDash":"independent"},"legend":{"color":"independent","strokeDash":"independent"}}
}
